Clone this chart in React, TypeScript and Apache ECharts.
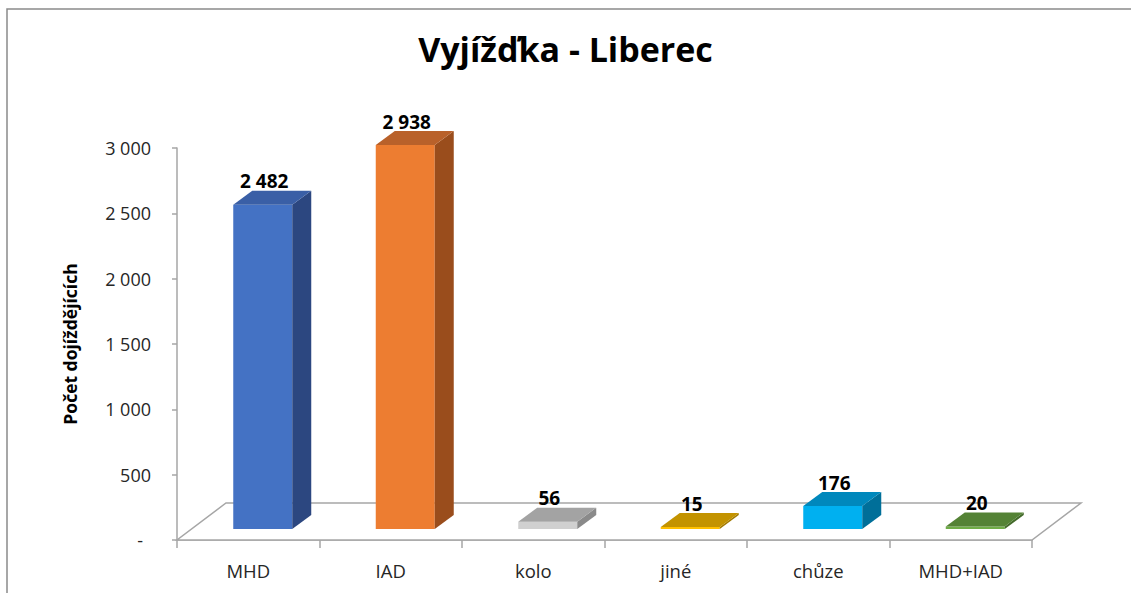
import React, { useEffect, useRef } from "react";
import * as echarts from "echarts";

const categories = ["MHD", "IAD", "kolo", "jiné", "chůze", "MHD+IAD"];
const values = [2482, 2938, 56, 15, 176, 20];
const frontColors = ["#4472C4", "#ED7D31", "#D0D0D0", "#FFC000", "#00B0F0", "#70AD47"];
const topColors = ["#3A5FA6", "#B9612A", "#A3A3A3", "#C39300", "#0088BC", "#548235"];
const sideColors = ["#2C4780", "#9A4D1C", "#8A8A8A", "#A27A00", "#006F99", "#436A2A"];
const yTicks = [0, 500, 1000, 1500, 2000, 2500, 3000];
const titleText = "Vyjížďka - Liberec";
const yAxisName = "Počet dojíždějících";

const FONT = "'Open Sans', 'Noto Sans', sans-serif";

function fmt(v: number): string {
  if (v === 0) return "-";
  if (v >= 1000) {
    return Math.floor(v / 1000) + " " + String(v % 1000).padStart(3, "0");
  }
  return String(v);
}

export default function App() {
  const ref = useRef<HTMLDivElement>(null);
  useEffect(() => {
    if (!ref.current) return;
    const chart = echarts.init(ref.current, undefined, { renderer: "svg" });
    const floorDX = 49;
    const floorDY = -37;
    const barOffX = 14.5;
    const barOffY = -11;
    const depthX = 19;
    const depthY = -14;

    const option: any = {
      animation: false,
      backgroundColor: "#ffffff",
      title: {
        text: titleText,
        left: "center",
        top: 27,
        textStyle: { fontFamily: FONT, fontSize: 34, fontWeight: "bold", color: "#000" },
      },
      graphic: [
        {
          type: "polyline",
          shape: { points: [[7, 900], [7, 9], [1500, 9]] },
          style: { fill: "none", stroke: "#8a8a8a", lineWidth: 1.5 },
          silent: true,
        },
      ],
      grid: { left: 177, right: 99, top: 148, bottom: 53 },
      xAxis: {
        type: "category",
        data: categories,
        axisLine: { show: true, lineStyle: { color: "#A6A6A6", width: 1.5 } },
        axisTick: { show: true, length: 8, lineStyle: { color: "#A6A6A6", width: 1.5 } },
        axisLabel: { margin: 21, fontFamily: FONT, fontSize: 18.5, color: "#262626" },
      },
      yAxis: {
        type: "value",
        min: yTicks[0],
        max: yTicks[yTicks.length - 1],
        interval: yTicks[1] - yTicks[0],
        name: yAxisName,
        nameLocation: "middle",
        nameRotate: 90,
        nameGap: 98,
        nameTextStyle: { fontFamily: FONT, fontSize: 17.5, fontWeight: "bold", color: "#000" },
        splitLine: { show: false },
        axisLine: { show: true, lineStyle: { color: "#A6A6A6", width: 1.5 } },
        axisTick: { show: true, length: 5, lineStyle: { color: "#A6A6A6", width: 1.5 } },
        axisLabel: {
          margin: 26,
          fontFamily: FONT,
          fontSize: 18,
          color: "#262626",
          formatter: (v: number) => (v === 0 ? "{dash|-}" : fmt(v)),
          rich: {
            dash: { fontFamily: FONT, fontSize: 18, color: "#262626", padding: [0, 8, 0, 0] },
          },
        },
      },
      series: [
        {
          type: "custom",
          z: 1,
          silent: true,
          data: [[0, 0]],
          renderItem: (params: any) => {
            const cs = params.coordSys;
            const yb = cs.y + cs.height;
            const xl = cs.x;
            const xr = cs.x + cs.width;
            return {
              type: "polygon",
              shape: {
                points: [
                  [xl, yb],
                  [xr, yb],
                  [xr + floorDX, yb + floorDY],
                  [xl + floorDX, yb + floorDY],
                ],
              },
              style: { fill: "#ffffff", stroke: "#A6A6A6", lineWidth: 1.5 },
            };
          },
        },
        {
          type: "custom",
          z: 3,
          data: values.map((v, i) => [i, v]),
          encode: { x: 0, y: 1 },
          renderItem: (params: any, api: any) => {
            const i = api.value(0) as number;
            const v = api.value(1) as number;
            const p0 = api.coord([i, 0]);
            const p1 = api.coord([i, v]);
            const band = api.size([1, 0])[0];
            const w = band * 0.414;
            const cx = p0[0] + barOffX;
            const x0 = cx - w / 2;
            const x1 = cx + w / 2;
            const yB = p0[1] + barOffY;
            const yT = p1[1] + barOffY;
            return {
              type: "group",
              children: [
                {
                  type: "rect",
                  shape: { x: x0, y: yT, width: w, height: Math.max(yB - yT, 0.5) },
                  style: { fill: frontColors[i] },
                },
                {
                  type: "polygon",
                  shape: {
                    points: [
                      [x1, yB],
                      [x1 + depthX, yB + depthY],
                      [x1 + depthX, yT + depthY],
                      [x1, yT],
                    ],
                  },
                  style: { fill: sideColors[i] },
                },
                {
                  type: "polygon",
                  shape: {
                    points: [
                      [x0, yT],
                      [x0 + depthX, yT + depthY],
                      [x1 + depthX, yT + depthY],
                      [x1, yT],
                    ],
                  },
                  style: { fill: topColors[i] },
                },
                {
                  type: "text",
                  z2: 10,
                  style: {
                    text: fmt(v),
                    x: cx + 1.5,
                    y: yT + depthY,
                    align: "center",
                    verticalAlign: "bottom",
                    fontSize: 19,
                    fontWeight: "bold",
                    fontFamily: FONT,
                    fill: "#000",
                  },
                },
              ],
            };
          },
        },
      ],
    };
    chart.setOption(option);
    return () => chart.dispose();
  }, []);
  return (
    <div
      ref={ref}
      style={{ position: "fixed", left: 0, top: 0, width: 1131, height: 593 }}
    />
  );
}
